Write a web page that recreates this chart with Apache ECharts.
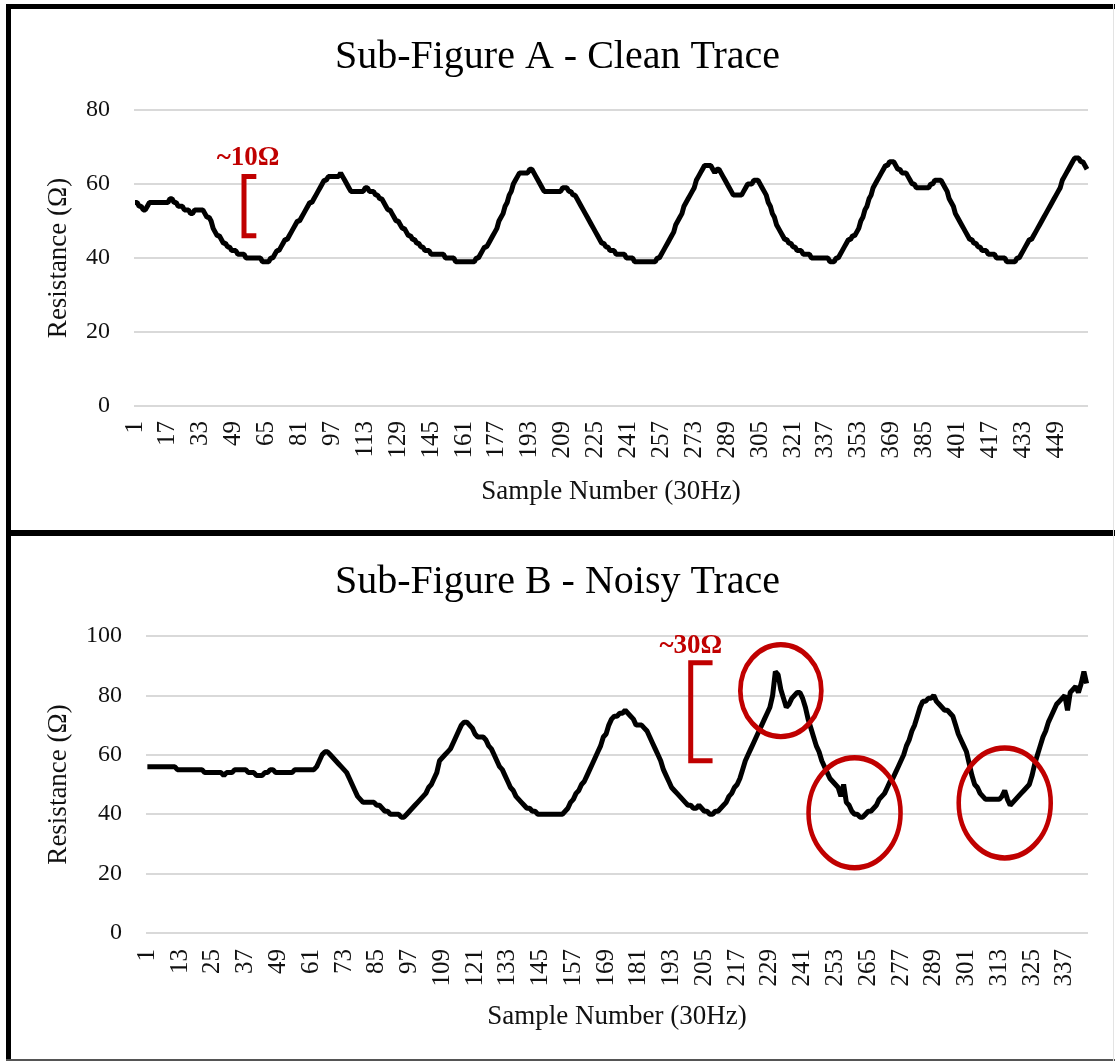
<!DOCTYPE html>
<html>
<head>
<meta charset="utf-8">
<title>Resistance traces</title>
<script src="https://cdn.jsdelivr.net/npm/echarts@6/dist/echarts.min.js"></script>
<style>
  html, body { margin: 0; padding: 0; background: #fff; }
  #grafico { width: 1115px; height: 1061px; }
</style>
</head>
<body>
<div id="grafico"></div>
<script>
/* Sub-Figure A: clean trace, one value per sample (rows of 16) */
var cleanTrace = [
    55,55,54,54,53,53,54,55,55,55,55,55,55,55,55,55,
    55,56,56,55,55,54,54,54,53,53,53,52,52,53,53,53,
    53,53,52,51,51,50,48,47,46,46,45,44,44,43,43,42,
    42,42,41,41,41,41,40,40,40,40,40,40,40,40,39,39,
    39,39,40,40,41,42,42,43,44,45,45,46,47,48,49,50,
    50,51,52,53,54,55,55,56,57,58,59,60,61,61,62,62,
    62,62,62,62,63,62,61,60,59,58,58,58,58,58,58,58,
    59,59,58,58,58,57,57,56,56,55,54,53,53,52,51,50,
    50,49,48,48,47,46,46,45,45,44,44,43,43,42,42,42,
    41,41,41,41,41,41,41,40,40,40,40,40,39,39,39,39,
    39,39,39,39,39,39,40,40,41,42,43,43,44,45,46,47,
    48,50,51,52,54,55,57,58,60,61,62,63,63,63,63,63,
    64,64,63,62,61,60,59,58,58,58,58,58,58,58,58,58,
    59,59,59,58,58,57,57,56,55,54,53,52,51,50,49,48,
    47,46,45,44,44,43,43,42,42,42,41,41,41,41,41,40,
    40,40,40,39,39,39,39,39,39,39,39,39,39,39,40,40,
    41,42,43,44,45,46,47,49,50,51,52,54,55,56,57,58,
    59,61,62,63,64,65,65,65,65,64,63,64,64,63,62,61,
    60,59,58,57,57,57,57,57,58,59,60,60,60,61,61,61,
    60,59,58,57,55,54,52,51,49,48,47,46,45,45,44,44,
    43,43,42,42,42,41,41,41,41,40,40,40,40,40,40,40,
    40,40,39,39,39,40,40,41,42,43,44,45,45,46,46,47,
    48,50,51,53,54,56,57,59,60,61,62,63,64,65,65,66,
    66,66,65,64,64,63,63,63,62,61,60,60,59,59,59,59,
    59,59,59,60,60,61,61,61,61,60,59,58,56,55,54,52,
    51,50,49,48,47,46,45,45,44,44,43,43,42,42,42,41,
    41,41,41,40,40,40,40,40,39,39,39,39,39,40,40,41,
    42,43,44,45,45,46,47,48,49,50,51,52,53,54,55,56,
    57,58,59,61,62,63,64,65,66,67,67,67,66,66,65,64
];

/* Sub-Figure B: noisy trace (rows of 12) */
var noisyTrace = [
    56,56,56,56,56,56,56,56,56,56,56,55,
    55,55,55,55,55,55,55,55,55,54,54,54,
    54,54,54,54,53,54,54,54,55,55,55,55,
    55,54,54,54,53,53,53,54,54,55,55,54,
    54,54,54,54,54,54,55,55,55,55,55,55,
    55,55,56,58,60,61,61,60,59,58,57,56,
    55,54,52,50,48,46,45,44,44,44,44,44,
    43,43,42,41,41,40,40,40,40,39,39,40,
    41,42,43,44,45,46,47,49,50,52,54,58,
    59,60,61,62,64,66,68,70,71,71,70,69,
    67,66,66,66,65,63,62,60,58,56,55,53,
    51,49,48,46,45,44,43,42,42,41,41,40,
    40,40,40,40,40,40,40,40,40,41,42,44,
    45,47,48,50,51,53,55,57,59,61,63,66,
    67,70,72,73,73,74,74,75,74,73,72,70,
    70,70,69,68,66,64,62,60,58,55,53,51,
    49,48,47,46,45,44,43,43,42,42,43,42,
    41,41,40,40,41,41,42,43,44,46,47,49,
    50,52,55,58,60,62,64,66,68,70,72,74,
    76,80,88,87,82,79,76,77,79,80,81,81,
    79,76,72,69,66,63,61,58,56,54,52,51,
    50,49,46,50,44,43,41,40,40,39,39,40,
    41,41,42,43,45,46,47,49,51,52,54,56,
    58,60,63,65,68,70,73,76,78,78,79,79,
    80,78,77,76,75,75,74,73,70,67,65,63,
    61,57,53,50,49,47,46,45,45,45,45,45,
    45,46,48,45,43,44,45,46,47,48,49,50,
    53,57,60,63,66,68,71,73,75,77,78,79,
    80,75,81,82,83,81,84,88,84
];

/* sample numbers on the category axes */
var samplesA = [];
for (var i = 1; i <= cleanTrace.length; i++) samplesA.push(String(i));
var samplesB = [];
for (var j = 1; j <= noisyTrace.length; j++) samplesB.push(String(j));

/* annotation points in data units [sample, ohms] */
var bracketA = [['60', 62], ['54', 62], ['54', 46], ['60', 46]];
var labelA = ['56', 67];
var bracketB = [['208', 91], ['200', 91], ['200', 58], ['208', 58]];
var labelB = ['200', 96.5];
var circlesB = [['233', 81.6], ['260', 40.5], ['315', 43.8]];

var serif = '"Liberation Serif", "DejaVu Serif", serif';
var red = '#c00000';
var ellipsePath = 'path://M0,50 A50,50 0 1 0 100,50 A50,50 0 1 0 0,50 Z';

var dom = document.getElementById("grafico");
var myChart = echarts.init(dom, null, { renderer: 'canvas' });

function xAxisFor(idx, cats, every, gap, nameGap) {
    return {
        type: 'category',
        gridIndex: idx,
        data: cats,
        boundaryGap: true,
        axisLine: { show: false },
        axisTick: { show: false },
        axisLabel: {
            interval: every - 1,
            rotate: 90,
            margin: gap,
            color: '#111',
            fontFamily: serif,
            fontSize: 25
        },
        name: 'Sample Number (30Hz)',
        nameLocation: 'middle',
        nameGap: nameGap,
        nameTextStyle: { color: '#111', fontFamily: serif, fontSize: 27 }
    };
}

function yAxisFor(idx, max, gap) {
    return {
        type: 'value',
        gridIndex: idx,
        min: 0,
        max: max,
        interval: 20,
        axisLine: { show: false },
        axisTick: { show: false },
        splitLine: { lineStyle: { color: '#d9d9d9', width: 2 } },
        axisLabel: {
            margin: 24,
            color: '#111',
            fontFamily: serif,
            fontSize: 24
        },
        name: 'Resistance (Ω)',
        nameLocation: 'middle',
        nameGap: gap,
        nameTextStyle: { color: '#111', fontFamily: serif, fontSize: 27 }
    };
}

function textMark(coord, text) {
    return {
        coord: coord,
        symbol: 'rect',
        symbolSize: 1,
        itemStyle: { color: 'rgba(0,0,0,0)' },
        label: {
            show: true,
            position: 'inside',
            formatter: text,
            color: red,
            fontFamily: serif,
            fontSize: 27,
            fontWeight: 'bold'
        }
    };
}

var option = {
    animation: false,
    backgroundColor: '#fff',
    title: [{
        text: 'Sub-Figure A - Clean Trace',
        left: 'center',
        top: 37,
        padding: 0,
        textStyle: { color: '#000', fontFamily: serif, fontSize: 40, fontWeight: 'normal' }
    }, {
        text: 'Sub-Figure B - Noisy Trace',
        left: 'center',
        top: 562,
        padding: 0,
        textStyle: { color: '#000', fontFamily: serif, fontSize: 40, fontWeight: 'normal' }
    }],
    grid: [
        { left: 134, top: 110, width: 954, height: 296 },
        { left: 146, top: 636, width: 942, height: 297 }
    ],
    xAxis: [xAxisFor(0, samplesA, 16, 15, 72), xAxisFor(1, samplesB, 12, 16, 70)],
    yAxis: [yAxisFor(0, 80, 62), yAxisFor(1, 100, 74)],
    series: [{
        name: 'clean',
        type: 'line',
        xAxisIndex: 0,
        yAxisIndex: 0,
        data: cleanTrace,
        showSymbol: false,
        silent: true,
        lineStyle: { color: '#000', width: 5 }
    }, {
        name: 'noisy',
        type: 'line',
        xAxisIndex: 1,
        yAxisIndex: 1,
        data: noisyTrace,
        showSymbol: false,
        silent: true,
        lineStyle: { color: '#000', width: 5 },
        markPoint: {
            silent: true,
            symbol: ellipsePath,
            label: { show: false },
            itemStyle: { color: 'rgba(0,0,0,0)', borderColor: red, borderWidth: 5 },
            data: [
                { coord: circlesB[0], symbolSize: [81, 92] },
                { coord: circlesB[1], symbolSize: [92, 110] },
                { coord: circlesB[2], symbolSize: [92, 110] }
            ]
        }
    }, {
        name: 'bracketA',
        type: 'line',
        xAxisIndex: 0,
        yAxisIndex: 0,
        data: bracketA,
        showSymbol: false,
        silent: true,
        z: 5,
        lineStyle: { color: red, width: 5, cap: 'butt', join: 'miter' },
        markPoint: { silent: true, data: [textMark(labelA, '~10Ω')] }
    }, {
        name: 'bracketB',
        type: 'line',
        xAxisIndex: 1,
        yAxisIndex: 1,
        data: bracketB,
        showSymbol: false,
        silent: true,
        z: 5,
        lineStyle: { color: red, width: 5, cap: 'butt', join: 'miter' },
        markPoint: { silent: true, data: [textMark(labelB, '~30Ω')] }
    }],
    /* panel frames */
    graphic: [
        { type: 'rect', shape: { x: 6, y: 4, width: 1109, height: 5 }, style: { fill: '#000' } },
        { type: 'rect', shape: { x: 6, y: 4, width: 5, height: 1057 }, style: { fill: '#000' } },
        { type: 'rect', shape: { x: 6, y: 530, width: 1109, height: 6 }, style: { fill: '#000' } },
        { type: 'rect', shape: { x: 6, y: 1059, width: 1109, height: 2 }, style: { fill: '#555' } },
        { type: 'rect', shape: { x: 1113, y: 4, width: 1, height: 1057 }, style: { fill: '#e3e3e3' } }
    ]
};

if (option && typeof option === "object") {
    myChart.setOption(option, true);
}
</script>
</body>
</html>
